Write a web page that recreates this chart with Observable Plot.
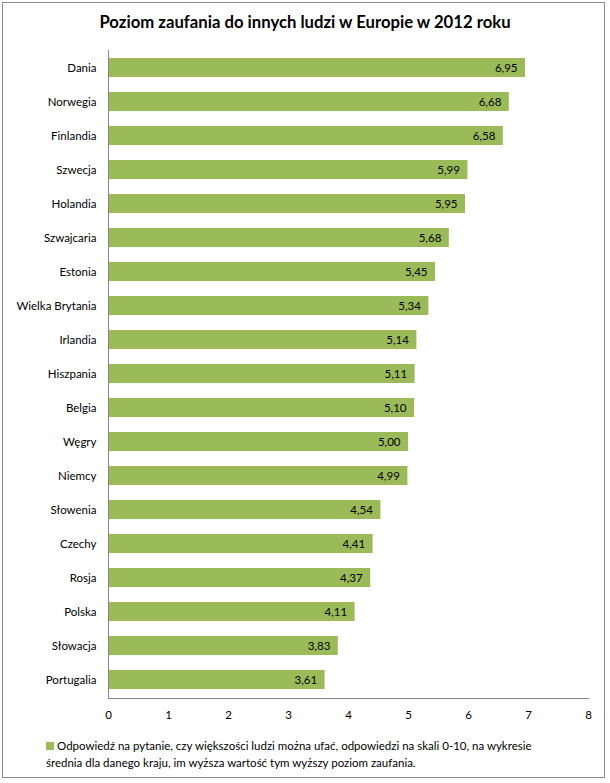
<!DOCTYPE html>
<html><head><meta charset="utf-8">
<script src="https://cdn.jsdelivr.net/npm/d3@7"></script>
<script src="https://cdn.jsdelivr.net/npm/@observablehq/plot@0.6"></script>
<style>
body{margin:0;background:#fff;font-family:Lato,"Open Sans",sans-serif;}
#frame{position:absolute;left:2px;top:2px;width:603px;height:776px;border:1px solid #8c8c8c;box-sizing:border-box;}
#title{position:absolute;left:0;top:12px;width:610px;text-align:center;font-weight:bold;font-size:16.7px;color:#000;}
#chart{position:absolute;left:0;top:40px;}
#legend{position:absolute;left:46px;top:737px;font-size:11.5px;line-height:17px;color:#000;}
#legend .sw{display:inline-block;width:8px;height:8px;background:#9BBB59;margin-right:3px;vertical-align:0px;}
</style></head>
<body>
<div id="frame"></div>
<div id="title">Poziom zaufania do innych ludzi w Europie w 2012 roku</div>
<div id="chart"></div>
<div id="legend"><span class="sw"></span>Odpowiedź na pytanie, czy większości ludzi można ufać, odpowiedzi na skali 0-10, na wykresie<br>średnia dla danego kraju, im wyższa wartość tym wyższy poziom zaufania.</div>
<script>
const countries = ["Dania","Norwegia","Finlandia","Szwecja","Holandia","Szwajcaria","Estonia","Wielka Brytania","Irlandia","Hiszpania","Belgia","Węgry","Niemcy","Słowenia","Czechy","Rosja","Polska","Słowacja","Portugalia"];
const values = [6.95,6.68,6.58,5.99,5.95,5.68,5.45,5.34,5.14,5.11,5.10,5.00,4.99,4.54,4.41,4.37,4.11,3.83,3.61];
const xTicks = [0,1,2,3,4,5,6,7,8];
const data = countries.map((c,i)=>({country:c, value:values[i]}));
const fmt = v => d3.format(".2f")(v).replace(".", ",");
const chart = Plot.plot({
  width: 610,
  height: 692,
  marginTop: 10,
  marginLeft: 108,
  marginRight: 22,
  marginBottom: 34,
  style: {fontFamily: "Lato, 'Open Sans', sans-serif", fontSize: "11.5px", color: "#000", background: "transparent"},
  x: {domain: [0, 8], ticks: xTicks, label: null},
  y: {domain: countries, paddingInner: 0.44, paddingOuter: 0.22, label: null},
  marks: [
    Plot.barX(data, {x: "value", y: "country", fill: "#9BBB59"}),
    Plot.text(data, {x: "value", y: "country", text: d => fmt(d.value), textAnchor: "end", dx: -8, fill: "#000", fontSize: 11.5}),
    Plot.ruleX([0], {stroke: "#868686"}),
    Plot.frame({anchor: "bottom", stroke: "#868686"}),
    Plot.axisX({ticks: xTicks, tickSize: 0, tickPadding: 12, tickFormat: d => String(d), label: null, fontSize: 11.5}),
    Plot.axisY({tickSize: 0, tickPadding: 12, label: null, fontSize: 11.5})
  ]
});
document.getElementById("chart").appendChild(chart);
</script>
</body></html>
